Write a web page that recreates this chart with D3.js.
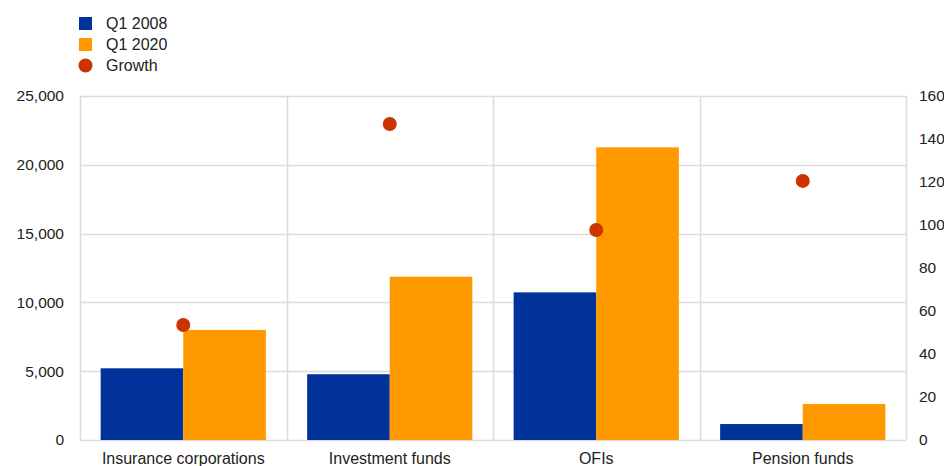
<!DOCTYPE html>
<html>
<head>
<meta charset="utf-8">
<script src="https://cdn.jsdelivr.net/npm/d3@7"></script>
<style>
  html, body { margin: 0; padding: 0; background: #fff; }
  svg { display: block; font-family: "Liberation Sans", Arial, sans-serif; }
</style>
</head>
<body>
<svg id="chart" width="944" height="466"></svg>
<script>
const categories = ["Insurance corporations", "Investment funds", "OFIs", "Pension funds"];
const seriesNames = ["Q1 2008", "Q1 2020"];
const q12008 = [5210, 4780, 10730, 1160];
const q12020 = [8000, 11870, 21270, 2620];
const growth = [53.5, 147, 97.7, 120.5];
const leftTicks = [0, 5000, 10000, 15000, 20000, 25000];
const rightTicks = [0, 20, 40, 60, 80, 100, 120, 140, 160];
const colors = { "Q1 2008": "#003299", "Q1 2020": "#ff9900", "Growth": "#cc3300" };

const svg = d3.select("#chart");
const mLeft = 80, mRight = 906, mTop = 96, mBottom = 440;

const x = d3.scaleBand().domain(categories).range([mLeft, mRight]).paddingInner(0).paddingOuter(0);
const x1 = d3.scaleBand().domain(seriesNames).range([0, x.bandwidth()]).paddingOuter(0.25).paddingInner(0);
const yL = d3.scaleLinear().domain([0, 25000]).range([mBottom, mTop]);
const yR = d3.scaleLinear().domain([0, 160]).range([mBottom, mTop]);

const grid = "#dcdcdc";
svg.append("g").selectAll("line").data(leftTicks).join("line")
  .attr("x1", mLeft).attr("x2", mRight)
  .attr("y1", d => Math.round(yL(d)) + 0.5).attr("y2", d => Math.round(yL(d)) + 0.5)
  .attr("stroke", grid).attr("stroke-width", 1.5);
const bounds = categories.map(c => x(c)).concat([mRight]);
svg.append("g").selectAll("line").data(bounds).join("line")
  .attr("x1", d => Math.round(d) + 0.5).attr("x2", d => Math.round(d) + 0.5)
  .attr("y1", mTop).attr("y2", mBottom)
  .attr("stroke", grid).attr("stroke-width", 1.5);

const series = [q12008, q12020];
const groups = svg.append("g").selectAll("g").data(categories).join("g")
  .attr("transform", d => `translate(${x(d)},0)`);
groups.selectAll("rect").data((d, i) => seriesNames.map((s, j) => ({ s, v: series[j][i] })))
  .join("rect")
  .attr("x", d => x1(d.s))
  .attr("width", x1.bandwidth())
  .attr("y", d => yL(d.v))
  .attr("height", d => mBottom - yL(d.v))
  .attr("fill", d => colors[d.s]);

svg.append("g").selectAll("circle").data(categories).join("circle")
  .attr("cx", d => x(d) + x.bandwidth() / 2)
  .attr("cy", (d, i) => yR(growth[i]))
  .attr("r", 7)
  .attr("fill", colors.Growth);

const fmt = d3.format(",");
const axL = svg.append("g").attr("transform", `translate(${mLeft},0)`)
  .call(d3.axisLeft(yL).tickValues(leftTicks).tickFormat(fmt).tickSize(0).tickPadding(16));
axL.select(".domain").remove();
axL.selectAll("text").attr("font-size", 15.5).attr("fill", "#222").attr("font-family", "Liberation Sans, Arial, sans-serif");

const axR = svg.append("g").attr("transform", `translate(${mRight},0)`)
  .call(d3.axisRight(yR).tickValues(rightTicks).tickSize(0).tickPadding(13));
axR.select(".domain").remove();
axR.selectAll("text").attr("font-size", 15.5).attr("fill", "#222").attr("font-family", "Liberation Sans, Arial, sans-serif");

const axX = svg.append("g").attr("transform", `translate(0,${mBottom})`)
  .call(d3.axisBottom(x).tickSize(0).tickPadding(13));
axX.select(".domain").remove();
axX.selectAll("text").attr("font-size", 16).attr("fill", "#222").attr("font-family", "Liberation Sans, Arial, sans-serif");

const legendItems = [
  { name: "Q1 2008", type: "rect" },
  { name: "Q1 2020", type: "rect" },
  { name: "Growth", type: "circle" }
];
const lg = svg.append("g");
legendItems.forEach((it, i) => {
  const cy = 23.5 + i * 21;
  if (it.type === "rect") {
    lg.append("rect").attr("x", 79).attr("y", cy - 6.5).attr("width", 13).attr("height", 13).attr("fill", colors[it.name]);
  } else {
    lg.append("circle").attr("cx", 85.5).attr("cy", cy).attr("r", 7).attr("fill", colors[it.name]);
  }
  lg.append("text").attr("x", 106).attr("y", cy).attr("dy", "0.35em")
    .attr("font-size", 16).attr("fill", "#222").text(it.name);
});
</script>
</body>
</html>
